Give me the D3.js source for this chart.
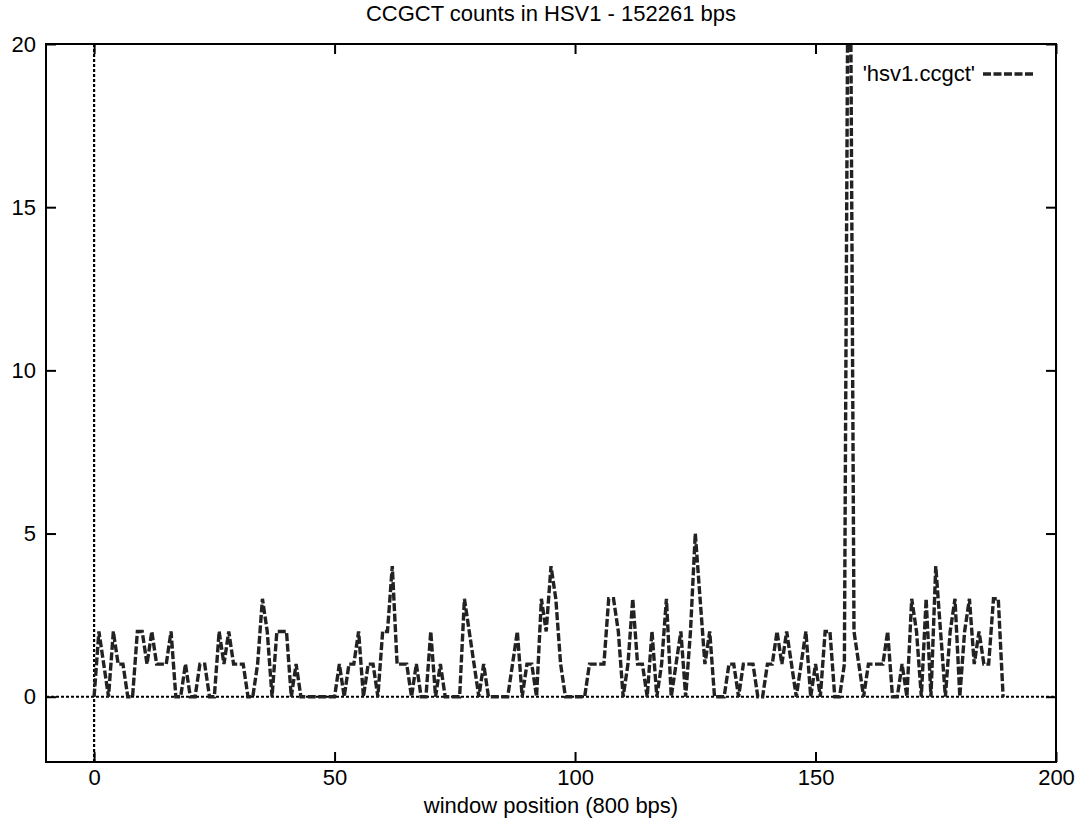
<!DOCTYPE html>
<html>
<head>
<meta charset="utf-8">
<script src="https://cdn.jsdelivr.net/npm/d3@7"></script>
<style>
  html, body { margin: 0; padding: 0; background: #fff; }
  svg { display: block; font-family: "Liberation Sans", Arial, Helvetica, sans-serif; }
</style>
</head>
<body>
<svg id="chart" width="1088" height="820"></svg>
<script>
// ---- data ----
const chartTitle = "CCGCT counts in HSV1 - 152261 bps";
const xLabel = "window position (800 bps)";
const seriesName = "'hsv1.ccgct'";
const xTicks = [0, 50, 100, 150, 200];
const yTicks = [0, 5, 10, 15, 20];
const xDomain = [-10, 200];
const yDomain = [-2, 20];
// counts per 800 bp window, window index 0..189
const counts = [
  0, 2, 1, 0, 2, 1, 1, 0, 0, 2,
  2, 1, 2, 1, 1, 1, 2, 0, 0, 1,
  0, 0, 1, 1, 0, 0, 2, 1, 2, 1,
  1, 1, 0, 0, 1, 3, 2, 0, 2, 2,
  2, 0, 1, 0, 0, 0, 0, 0, 0, 0,
  0, 1, 0, 1, 1, 2, 0, 1, 1, 0,
  2, 2, 4, 1, 1, 1, 0, 1, 0, 0,
  2, 0, 1, 0, 0, 0, 0, 3, 2, 1,
  0, 1, 0, 0, 0, 0, 0, 1, 2, 0,
  1, 1, 0, 3, 2, 4, 3, 1, 0, 0,
  0, 0, 0, 1, 1, 1, 1, 3, 3, 2,
  0, 1, 3, 1, 1, 0, 2, 0, 1, 3,
  0, 1, 2, 0, 2, 5, 3, 1, 2, 0,
  0, 0, 1, 1, 0, 1, 1, 1, 0, 0,
  1, 1, 2, 1, 2, 1, 0, 1, 2, 0,
  1, 0, 2, 2, 0, 0, 1, 30, 2, 1,
  0, 1, 1, 1, 1, 2, 0, 0, 1, 0,
  3, 2, 0, 3, 0, 4, 2, 0, 2, 3,
  0, 2, 3, 1, 2, 1, 1, 3, 3, 0
];

// ---- layout ----
const plot = { left: 46, right: 1056, top: 44, bottom: 762 };
const fontSize = 22;

const svg = d3.select("#chart");
const x = d3.scaleLinear().domain(xDomain).range([plot.left, plot.right]);
const y = d3.scaleLinear().domain(yDomain).range([plot.bottom, plot.top]);

// clip
svg.append("defs").append("clipPath").attr("id", "clip")
  .append("rect")
  .attr("x", plot.left).attr("y", plot.top)
  .attr("width", plot.right - plot.left).attr("height", plot.bottom - plot.top);

// zero axes (dotted)
svg.append("line")
  .attr("x1", plot.left).attr("x2", plot.right)
  .attr("y1", y(0)).attr("y2", y(0))
  .attr("stroke", "#000").attr("stroke-width", 2.2)
  .attr("stroke-dasharray", "3,2");
svg.append("line")
  .attr("x1", x(0)).attr("x2", x(0))
  .attr("y1", plot.top).attr("y2", plot.bottom)
  .attr("stroke", "#000").attr("stroke-width", 2.2)
  .attr("stroke-dasharray", "3,2");

// data line
const line = d3.line().x((d, i) => x(i)).y(d => y(d));
svg.append("path")
  .datum(counts)
  .attr("clip-path", "url(#clip)")
  .attr("d", line)
  .attr("fill", "none")
  .attr("stroke", "#222")
  .attr("stroke-width", 3.4)
  .attr("stroke-dasharray", "8,2.5")
  .attr("stroke-linejoin", "miter");

// axes (ticks inward)
function styleAxis(g) {
  g.select(".domain").remove();
  g.selectAll(".tick line").attr("stroke", "#000").attr("stroke-width", 2);
  g.selectAll(".tick text")
    .attr("fill", "#000")
    .attr("font-size", fontSize)
    .attr("font-family", "Liberation Sans, Arial, Helvetica, sans-serif");
}
svg.append("g")
  .attr("transform", `translate(0,${plot.bottom})`)
  .call(d3.axisBottom(x).tickValues(xTicks).tickSize(-10).tickPadding(7).tickFormat(d3.format("d")))
  .call(styleAxis);
svg.append("g")
  .attr("transform", `translate(0,${plot.top})`)
  .call(d3.axisTop(x).tickValues(xTicks).tickSize(-10).tickFormat(""))
  .call(styleAxis);
svg.append("g")
  .attr("transform", `translate(${plot.left},0)`)
  .call(d3.axisLeft(y).tickValues(yTicks).tickSize(-10).tickPadding(10).tickFormat(d3.format("d")))
  .call(styleAxis);
svg.append("g")
  .attr("transform", `translate(${plot.right},0)`)
  .call(d3.axisRight(y).tickValues(yTicks).tickSize(-10).tickFormat(""))
  .call(styleAxis);

// border
svg.append("rect")
  .attr("x", plot.left).attr("y", plot.top)
  .attr("width", plot.right - plot.left).attr("height", plot.bottom - plot.top)
  .attr("fill", "none").attr("stroke", "#000").attr("stroke-width", 2);

// title
svg.append("text")
  .attr("x", (plot.left + plot.right) / 2).attr("y", 21)
  .attr("text-anchor", "middle").attr("font-size", fontSize).attr("fill", "#000")
  .text(chartTitle);

// x label
svg.append("text")
  .attr("x", (plot.left + plot.right) / 2).attr("y", 813)
  .attr("text-anchor", "middle").attr("font-size", fontSize).attr("fill", "#000")
  .text(xLabel);

// legend
const legY = 74;
svg.append("text")
  .attr("x", 975).attr("y", legY + 7)
  .attr("text-anchor", "end").attr("font-size", fontSize).attr("fill", "#000")
  .text(seriesName);
svg.append("line")
  .attr("x1", 983).attr("x2", 1035).attr("y1", legY).attr("y2", legY)
  .attr("stroke", "#222").attr("stroke-width", 3.4).attr("stroke-dasharray", "8,2.5");
</script>
</body>
</html>
